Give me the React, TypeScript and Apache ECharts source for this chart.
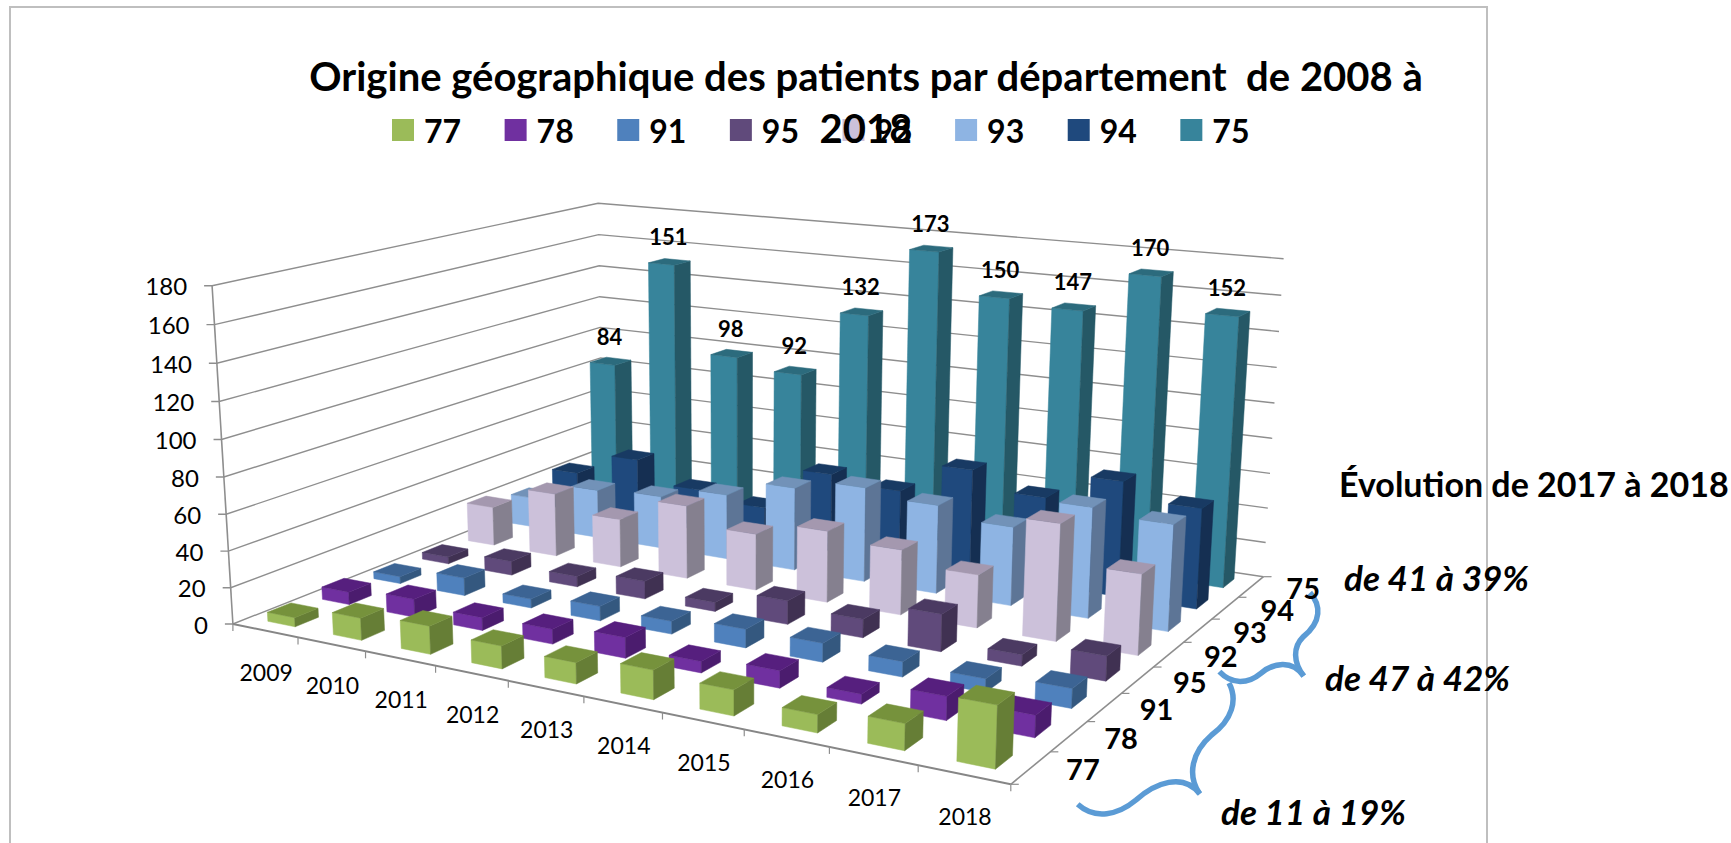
import React, { useEffect, useRef } from "react";
import * as echarts from "echarts";

const TITLE = "Origine géographique des patients par département  de 2008 à\n2018";
const years = ["2009", "2010", "2011", "2012", "2013", "2014", "2015", "2016", "2017", "2018"];
const departments = ["77", "78", "91", "95", "92", "93", "94", "75"];
const yTicks = [0, 20, 40, 60, 80, 100, 120, 140, 160, 180];

const dept77 = [5, 12, 15, 12, 11, 15, 13, 9, 13, 30];
const dept78 = [7, 10, 7, 8, 11, 6, 9, 5, 12, 11];
const dept91 = [4, 10, 5, 8, 7, 10, 10, 8, 7, 10];
const dept95 = [4, 8, 6, 10, 5, 13, 10, 20, 6, 13];
const dept92 = [23, 37, 28, 42, 32, 40, 36, 29, 63, 43];
const dept93 = [18, 29, 31, 38, 48, 54, 50, 44, 61, 58];
const dept94 = [24, 38, 25, 20, 46, 42, 60, 50, 65, 56];
const dept75 = [84, 151, 98, 92, 132, 173, 150, 147, 170, 152];

const colors: Record<string, string[]> = {
  "77": ["#9BBB59", "#76923C", "#667E36"],
  "78": ["#7030A0", "#561F7E", "#4B1C6E"],
  "91": ["#4F81BD", "#3C6494", "#34587F"],
  "95": ["#604A7B", "#4B3A62", "#403152"],
  "92": ["#CCC1DA", "#A498AF", "#85808F"],
  "93": ["#8EB4E3", "#7292B8", "#5D7596"],
  "94": ["#1F497D", "#183A63", "#152F52"],
  "75": ["#37849B", "#2C6B7D", "#255866"],
};
const seriesValues: Record<string, number[]> = {
  "77": dept77, "78": dept78, "91": dept91, "95": dept95,
  "92": dept92, "93": dept93, "94": dept94, "75": dept75,
};

// perspective of the 3D box
const FL = [232.9, 624], FR = [1010.8, 784.3], BR = [1263.5, 576.7], BL = [602.6, 477.6];
const VP = [740, 8865];
const T = 0.03943;
const den = (FR[0] - BR[0]) * (BL[1] - BR[1]) - (BL[0] - BR[0]) * (FR[1] - BR[1]);
const sx = FL[0] - FR[0] + BR[0] - BL[0];
const sy = FL[1] - FR[1] + BR[1] - BL[1];
const G = (sx * (BL[1] - BR[1]) - (BL[0] - BR[0]) * sy) / den;
const H = ((FR[0] - BR[0]) * sy - sx * (FR[1] - BR[1])) / den;
function project(u: number, v: number, val: number): number[] {
  const w = 1 + G * u + H * v;
  const X = (FR[0] - FL[0] + G * FR[0]) * u + (BL[0] - FL[0] + H * BL[0]) * v + FL[0];
  const Y = (FR[1] - FL[1] + G * FR[1]) * u + (BL[1] - FL[1] + H * BL[1]) * v + FL[1];
  const k = (val / 180) * T;
  return [(X - k * VP[0]) / (w - k), (Y - k * VP[1]) / (w - k)];
}

const BAR_U = 0.042;
const BAR_V = 0.053;
const FONT = "Lato, 'Open Sans', sans-serif";

function line(points: number[][], stroke: string, lineWidth: number) {
  return { type: "polyline", shape: { points }, style: { stroke, lineWidth, fill: "none" }, silent: true };
}

function barSeries(name: string) {
  const j = departments.indexOf(name);
  const v = (j + 0.5) / departments.length;
  const [front, top, side] = colors[name];
  return {
    name,
    type: "custom",
    coordinateSystem: "cartesian2d",
    itemStyle: { color: front },
    data: seriesValues[name].map((value, i) => [i, value]),
    encode: { x: 0, y: 1 },
    renderItem(params: any, api: any) {
      const value = api.value(1);
      const p = api.coord([api.value(0), value]);
      const cs = params.coordSys;
      const u = (p[0] - cs.x) / cs.width;
      const h = (180 * (cs.y + cs.height - p[1])) / cs.height;
      const u0 = u - BAR_U / 2, u1 = u + BAR_U / 2;
      const v0 = v - BAR_V / 2, v1 = v + BAR_V / 2;
      const poly = (points: number[][], fill: string) => ({
        type: "polygon", shape: { points }, style: { fill, stroke: fill, lineWidth: 0.5 },
      });
      const children: any[] = [
        poly([project(u0, v0, 0), project(u1, v0, 0), project(u1, v0, h), project(u0, v0, h)], front),
        poly([project(u1, v0, 0), project(u1, v1, 0), project(u1, v1, h), project(u1, v0, h)], side),
        poly([project(u0, v0, h), project(u1, v0, h), project(u1, v1, h), project(u0, v1, h)], top),
      ];
      if (name === "75") {
        const c = project(u, v, h);
        children.push({
          type: "text", x: c[0] - 1, y: c[1] - 25,
          style: { text: String(value), fontFamily: FONT, fontSize: 22, fontWeight: "bold", fill: "#000", textAlign: "center", textVerticalAlign: "middle" },
        });
      }
      return { type: "group", children };
    },
  };
}

const wallSeries = {
  name: "wall",
  type: "custom",
  coordinateSystem: "cartesian2d",
  silent: true,
  z: 1,
  data: yTicks.map((t) => [0, t]),
  encode: { x: 0, y: 1 },
  renderItem(params: any, api: any) {
    const p = api.coord([0, api.value(1)]);
    const cs = params.coordSys;
    const h = (180 * (cs.y + cs.height - p[1])) / cs.height;
    const a = project(0, 0, h), b = project(0, 1, h), c = project(1, 1, h);
    return {
      type: "group",
      children: [
        line([[a[0] - 8, a[1]], a, b, c], "#8E8E8E", 1.4),
        {
          type: "text", x: a[0] - 25, y: a[1],
          style: { text: String(api.value(1)), fontFamily: FONT, fontSize: 24, fill: "#000", textAlign: "right", textVerticalAlign: "middle" },
        },
      ],
    };
  },
};

const edgeSeries = {
  name: "edges",
  type: "custom",
  coordinateSystem: "cartesian2d",
  silent: true,
  z: 1,
  data: [[0, 0]],
  encode: { x: 0, y: 1 },
  renderItem() {
    const children: any[] = [
      line([project(0, 0, 0), project(0, 0, 180)], "#8E8E8E", 1.6),
      line([project(0, 0, 0), project(1, 0, 0)], "#868686", 2),
      line([project(1, 0, 0), project(1, 1, 0)], "#8E8E8E", 1.6),
    ];
    for (let i = 0; i <= years.length; i++) {
      const a = project(i / years.length, 0, 0);
      children.push(line([a, [a[0], a[1] + 7]], "#8E8E8E", 1.2));
    }
    for (let j = 0; j <= departments.length; j++) {
      const a = project(1, j / departments.length, 0);
      children.push(line([a, [a[0] + 8, a[1]]], "#8E8E8E", 1.2));
    }
    years.forEach((y, i) => {
      const a = project((i + 0.5) / years.length, 0, 0);
      children.push({
        type: "text", x: a[0] + 1, y: a[1] + 41,
        style: { text: y, fontFamily: FONT, fontSize: 23, fill: "#000", textAlign: "center", textVerticalAlign: "middle" },
      });
    });
    departments.forEach((d, j) => {
      const a = project(1, (j + 0.5) / departments.length, 0);
      children.push({
        type: "text", x: a[0] + 52, y: a[1] + 1,
        style: { text: d, fontFamily: FONT, fontSize: 29, fontWeight: "bold", fill: "#000", textAlign: "center", textVerticalAlign: "middle" },
      });
    });
    return { type: "group", children };
  },
};

const braceA = "M1310 592.7 C1321 605 1322 622 1303 637 C1293 647 1293 662 1303.7 676";
const braceB = "M1219.4 671.7 C1232 685 1248 684 1260.8 673.3 C1273 663 1292 659 1303.7 676";
const braceC = "M1229 683 C1238 700 1232 720 1211.6 735 C1192 752 1187 775 1199.3 793.3";
const braceD = "M1077.7 804.3 C1095 820 1118 815 1136 800 C1155 783 1183 772 1200 794";

export default function App() {
  const ref = useRef<HTMLDivElement>(null);
  useEffect(() => {
    document.body.style.margin = "0";
    echarts.graphic.registerShape("braceA", echarts.graphic.extendPath(braceA, {}));
    echarts.graphic.registerShape("braceB", echarts.graphic.extendPath(braceB, {}));
    echarts.graphic.registerShape("braceC", echarts.graphic.extendPath(braceC, {}));
    echarts.graphic.registerShape("braceD", echarts.graphic.extendPath(braceD, {}));
    const chart = echarts.init(ref.current!, undefined, { renderer: "svg" });
    const braceStyle = { stroke: "#5B9BD5", lineWidth: 5.5, fill: "none" };
    const sideText = (text: string, x: number, y: number, italic: boolean) => ({
      type: "text", x, y, z: 20,
      style: { text, fontFamily: FONT, fontSize: italic ? 35 : 34, fontWeight: "bold", fontStyle: italic ? "italic" : "normal", fill: "#000", textVerticalAlign: "middle" },
    });
    chart.setOption({
      animation: false,
      backgroundColor: "#fff",
      title: {
        text: TITLE,
        left: 861,
        top: 45,
        textAlign: "center",
        textStyle: { fontFamily: FONT, fontSize: 40, fontWeight: "bold", color: "#000", lineHeight: 52 },
      },
      legend: {
        data: departments,
        left: 387,
        top: 109,
        width: 1000,
        icon: "rect",
        itemWidth: 22,
        itemHeight: 22,
        itemGap: 43.5,
        textStyle: { fontFamily: FONT, fontSize: 32, fontWeight: "bold", color: "#000", padding: [0, 0, 0, 5] },
        selectedMode: false,
      },
      tooltip: { show: false },
      grid: { left: 0, top: 0, width: 1000, height: 180 },
      xAxis: { type: "category", data: years, show: false },
      yAxis: { type: "value", min: 0, max: 180, interval: 20, show: false },
      series: [
        wallSeries,
        edgeSeries,
        ...["75", "94", "93", "92", "95", "91", "78", "77"].map(barSeries),
      ],
      graphic: [
        { type: "polyline", shape: { points: [[10, 843], [10, 7], [1487, 7], [1487, 843]] }, style: { stroke: "#BFBFBF", lineWidth: 2, fill: "none" }, silent: true },
        sideText("Évolution de 2017 à 2018", 1339, 483, false),
        sideText("de 41 à 39%", 1344, 577, true),
        sideText("de 47 à 42%", 1325, 677, true),
        sideText("de 11 à 19%", 1221, 811, true),
        { type: "braceA", x: 0, y: 0, style: braceStyle },
        { type: "braceB", x: 0, y: 0, style: braceStyle },
        { type: "braceC", x: 0, y: 0, style: braceStyle },
        { type: "braceD", x: 0, y: 0, style: braceStyle },
      ],
    });
    return () => chart.dispose();
  }, []);
  return <div ref={ref} style={{ position: "fixed", left: 0, top: 0, width: 1731, height: 843 }} />;
}
